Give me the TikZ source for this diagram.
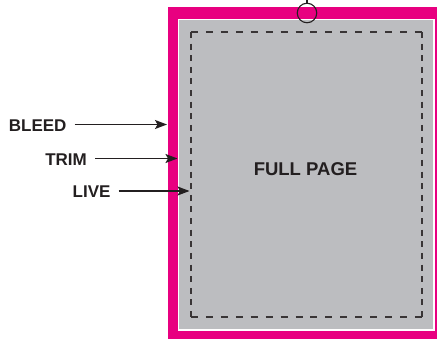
\documentclass[tikz,border=0pt]{standalone}
\usepackage{fontspec}
\setmainfont{Liberation Sans}
\usetikzlibrary{arrows.meta}
\definecolor{bleedmag}{RGB}{232,0,128}
\definecolor{pagegray}{RGB}{188,189,192}
\definecolor{inkdark}{RGB}{35,31,32}
\tikzset{
  lbl/.style={inner sep=0pt, anchor=east, text=inkdark, font=\fontsize{17}{17}\selectfont\bfseries},
  pointer/.style={draw=inkdark, line width=1.4pt, -{Stealth[length=12pt,width=9pt,inset=2.5pt]}},
  liveline/.style={draw=inkdark!90, line width=1.2pt},
}
\begin{document}
\begin{tikzpicture}[x=1pt,y=-1pt]
% bleed (magenta)
\fill[bleedmag] (168,7) rectangle (437,338.5);
% trim (gray page with white edge)
\fill[white] (177.8,18.6) rectangle (434.6,330.7);
\fill[pagegray] (179.2,20) rectangle (433.2,329.3);
% live area (dashed)
\coordinate (lt) at (191,32);
\coordinate (rt) at (422,32);
\coordinate (lb) at (191,317);
\coordinate (rb) at (422,317);
\draw[liveline, dash pattern=on 7pt off 7.93pt] (lt) -- (rt);
\draw[liveline, dash pattern=on 7pt off 7.93pt] (lb) -- (rb);
\draw[liveline, dash pattern=on 6pt off 5.625pt] (lt) -- (lb);
\draw[liveline, dash pattern=on 6pt off 5.625pt] (rt) -- (rb);
% registration circle
\node[draw=inkdark, line width=1.1pt, circle, minimum size=19.5pt, inner sep=0pt] (reg) at (307,13) {};
\coordinate (regtop) at (307,0);
\draw[inkdark, line width=1.1pt] (regtop) -- (reg.north);
% labels
\node[inner sep=0pt, text=inkdark, font=\fontsize{18.5}{18.5}\selectfont\bfseries] (full) at (305.5,169) {FULL PAGE};
\node[lbl] (bleed) at (66.7,126) {BLEED};
\node[lbl] (trim) at (87,159.5) {TRIM};
\node[lbl] (live) at (110.7,192) {LIVE};
\coordinate (bleedtip) at (167,124.5);
\coordinate (trimtip) at (177.5,158.5);
\coordinate (livetip) at (189.5,191);
\draw[pointer] ([xshift=8pt]bleed.east |- bleedtip) -- (bleedtip);
\draw[pointer] ([xshift=8pt]trim.east |- trimtip) -- (trimtip);
\draw[pointer] ([xshift=8pt]live.east |- livetip) -- (livetip);
\pgfresetboundingbox
\path[use as bounding box] (0,0) rectangle (438,339);
\end{tikzpicture}
\end{document}
